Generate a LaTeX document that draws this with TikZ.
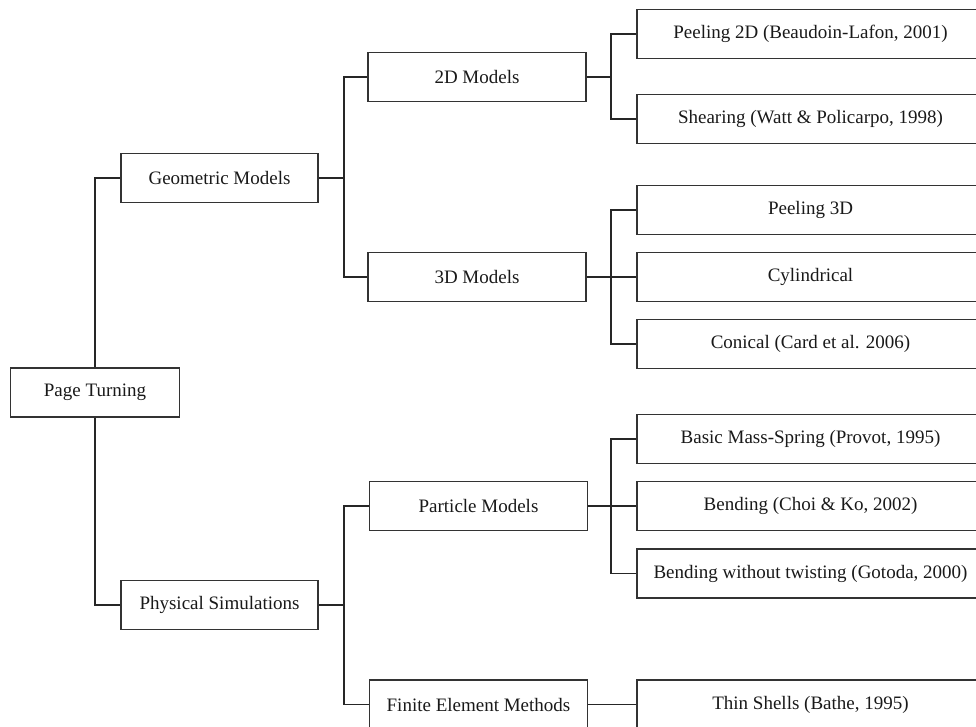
\documentclass[tikz,border=0pt]{standalone}
\usepackage{fontspec}
\setmainfont{Liberation Serif}
\begin{document}
\begin{tikzpicture}[x=1pt,y=-1pt,
  box/.style={draw=black!80, line width=1.4pt, minimum height=49pt, inner sep=0pt,
    text=black!90, font=\fontsize{19}{22}\selectfont},
  leaf/.style={box, minimum width=347pt},
  mid/.style={box, minimum width=218pt},
  conn/.style={draw=black!85, line width=1.5pt}]
\useasboundingbox (0,0) rectangle (976,727);
\clip (0,0) rectangle (976,727);
% nodes
\node[box, minimum width=169pt] (pt) at (95,392.5) {Page Turning};
\node[box, minimum width=197pt] (gm) at (219.5,178) {Geometric Models};
\node[box, minimum width=197pt] (ps) at (219.5,605) {Physical Simulations};
\node[mid] (m2d) at (477,77) {2D Models};
\node[mid] (m3d) at (477,277) {3D Models};
\node[mid] (pm) at (478.5,506) {Particle Models};
\node[mid] (fem) at (478.5,704.5) {Finite Element Methods};
\node[leaf] (p2d) at (810.5,34) {Peeling 2D (Beaudoin-Lafon, 2001)};
\node[leaf] (shear) at (810.5,119) {Shearing (Watt \& Policarpo, 1998)};
\node[leaf] (p3d) at (810.5,210) {Peeling 3D};
\node[leaf] (cyl) at (810.5,277) {Cylindrical};
\node[leaf] (con) at (810.5,344) {Conical (Card et al. 2006)};
\node[leaf] (bms) at (810.5,439) {Basic Mass-Spring (Provot, 1995)};
\node[leaf] (bend) at (810.5,506) {Bending (Choi \& Ko, 2002)};
\node[leaf] (bwt) at (810.5,573.5) {Bending without twisting (Gotoda, 2000)};
\node[leaf] (ts) at (810.5,704.5) {Thin Shells (Bathe, 1995)};
% junctions
\coordinate (jg) at (344,178);
\coordinate (jp) at (344,605);
\coordinate (j2) at (611,77);
\coordinate (j3) at (611,277);
\coordinate (jm) at (611,506);
% connectors
\draw[conn] (pt.north) |- (gm.west);
\draw[conn] (pt.south) |- (ps.west);
\draw[conn] (gm.east) -- (jg);
\draw[conn] (jg) |- (m2d.west);
\draw[conn] (jg) |- (m3d.west);
\draw[conn] (ps.east) -- (jp);
\draw[conn] (jp) |- (pm.west);
\draw[conn] (jp) |- (fem.west);
\draw[conn] (m2d.east) -- (j2);
\draw[conn] (j2) |- (p2d.west);
\draw[conn] (j2) |- (shear.west);
\draw[conn] (m3d.east) -- (cyl.west);
\draw[conn] (j3) |- (p3d.west);
\draw[conn] (j3) |- (con.west);
\draw[conn] (pm.east) -- (bend.west);
\draw[conn] (jm) |- (bms.west);
\draw[conn] (jm) |- (bwt.west);
\draw[conn] (fem.east) -- (ts.west);
\end{tikzpicture}
\end{document}
